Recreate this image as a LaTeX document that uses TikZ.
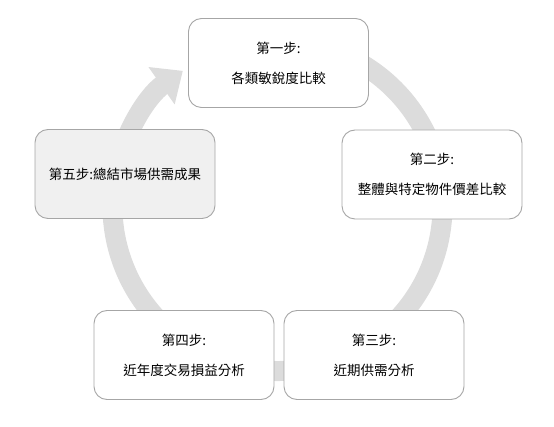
\documentclass[tikz,border=0pt]{standalone}
\usepackage{fontspec}
\newfontfamily\cjk{Noto Sans CJK TC}
\usepackage{xcolor}
\usetikzlibrary{arrows.meta,positioning}

\definecolor{ringgray}{HTML}{DCDCDC}
\definecolor{edgegray}{HTML}{A6A6A6}
\definecolor{shadegray}{HTML}{F0F0F0}

\begin{document}
\begin{tikzpicture}[
   x=1pt,y=1pt,
   stepbox/.style={draw=edgegray,line width=0.9pt,rounded corners=13pt,fill=white,
               align=center,minimum width=180pt,minimum height=89pt,inner sep=2pt,
               font=\cjk\fontsize{13.5}{30}\selectfont},
   sumbox/.style={stepbox,fill=shadegray},
   ring/.style={draw=ringgray,line width=20pt,
               -{Triangle[width=44pt,length=26pt]}}
  ]
  \useasboundingbox (0,0) rectangle (554,-427);
  \coordinate (mid) at (277.5,-206);

  % circular arrow behind the steps
  \draw[ring] ([shift={(80:165)}]mid) arc[start angle=80,end angle=-235,radius=165];

  \node[stepbox] (s1) at (278.5,-63)  {第一步:\\各類敏銳度比較};
  \node[stepbox] (s2) at (432,-174.5) {第二步:\\整體與特定物件價差比較};
  \node[stepbox] (s3) at (374,-355)   {第三步:\\近期供需分析};
  \node[stepbox] (s4) at (184,-355)   {第四步:\\近年度交易損益分析};
  \node[sumbox]  (s5) at (125,-174)   {第五步:總結市場供需成果};
\end{tikzpicture}
\end{document}
